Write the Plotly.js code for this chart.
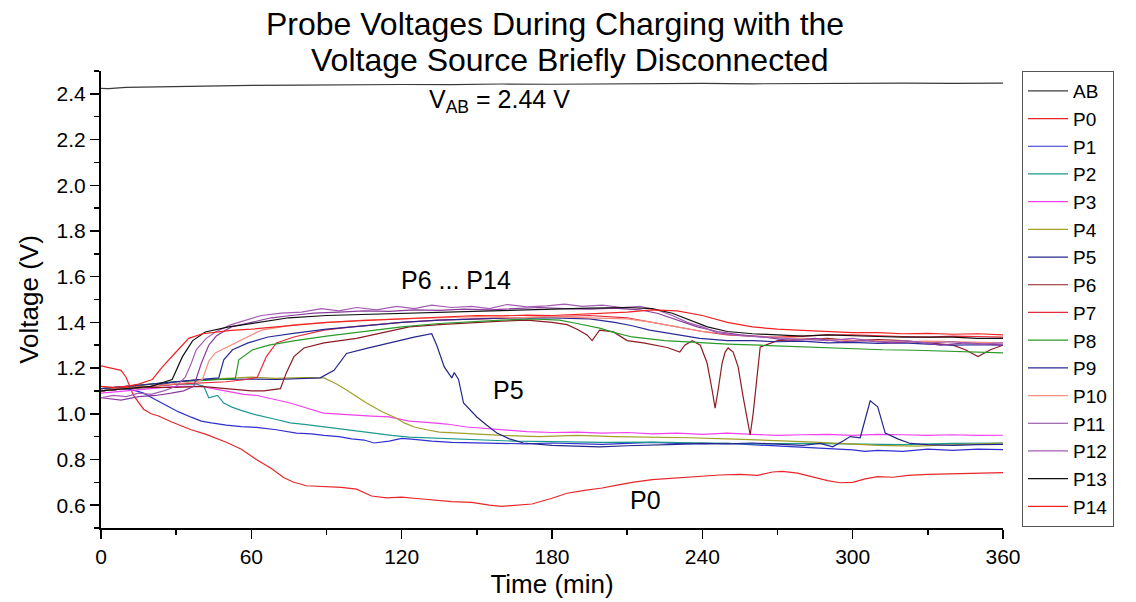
<!DOCTYPE html>
<html>
<head>
<meta charset="utf-8">
<script src="https://cdn.plot.ly/plotly-3.0.1.min.js"></script>
<style>html,body{margin:0;padding:0;background:#fff;}#chart{width:1136px;height:602px;}</style>
</head>
<body>
<div id="chart"></div>
<script>
// ---- data (time in min, voltage in V) ----
const seriesNames = ["AB","P0","P1","P2","P3","P4","P5","P6","P7","P8","P9","P10","P11","P12","P13","P14"];

const tAB = [0,3,10,20,30,40,50,60,80,100,120,140,160,180,200,220,240,260,280,300,320,340,360];
const vAB = [2.424,2.423,2.428,2.430,2.431,2.434,2.433,2.437,2.438,2.440,2.441,2.440,2.443,2.442,2.444,2.443,2.446,2.444,2.446,2.445,2.447,2.446,2.447];

const tP0 = [0,4,8,10,13,17,20,23,28,36,42,50,56,62,68,73,77,82,89,96,102,108,114,120,127,133,140,148,155,160,165,172,180,186,193,200,206,212,220,228,236,242,247,255,262,268,272,278,285,290,295,300,305,310,316,322,330,340,350,360];
const vP0 = [1.21,1.20,1.19,1.16,1.08,1.02,1.00,0.99,0.965,0.93,0.91,0.875,0.845,0.80,0.76,0.72,0.70,0.685,0.68,0.678,0.67,0.64,0.632,0.635,0.628,0.622,0.615,0.612,0.60,0.595,0.598,0.605,0.63,0.652,0.665,0.675,0.688,0.70,0.712,0.718,0.725,0.728,0.732,0.735,0.73,0.745,0.748,0.74,0.72,0.707,0.698,0.70,0.715,0.725,0.722,0.73,0.735,0.738,0.74,0.742];

const tP1 = [0,5,10,14,17,22,27,31,36,40,44,50,56,62,70,78,84,89,95,100,105,109,115,120,125,132,140,150,160,170,180,190,200,210,220,230,240,250,260,270,280,290,300,305,310,320,330,340,350,360];
const vP1 = [1.10,1.105,1.11,1.10,1.09,1.06,1.03,1.008,0.985,0.968,0.96,0.95,0.944,0.94,0.93,0.915,0.912,0.905,0.90,0.89,0.885,0.872,0.88,0.892,0.888,0.88,0.875,0.872,0.87,0.868,0.872,0.87,0.866,0.87,0.875,0.87,0.868,0.87,0.865,0.86,0.855,0.85,0.842,0.835,0.84,0.835,0.845,0.84,0.845,0.843];

const tP2 = [0,10,20,30,38,41,43,46.5,49,52,55.6,62,70,75.5,82,89,96,103,109,116,123,135,150,165,180,200,220,240,260,280,300,320,340,360];
const vP2 = [1.10,1.11,1.12,1.13,1.13,1.12,1.07,1.08,1.047,1.03,1.016,0.995,0.975,0.96,0.952,0.942,0.935,0.925,0.916,0.905,0.898,0.892,0.885,0.88,0.878,0.875,0.876,0.872,0.868,0.87,0.868,0.865,0.87,0.872];

const tP3 = [0,10,20,30,40,45,51.6,57,62.4,68,75.5,82,88.8,95,102,108,115,123,130,138,146,155,163,170,180,190,200,210,220,230,240,250,260,270,280,290,300,310,320,330,340,350,360];
const vP3 = [1.09,1.10,1.11,1.12,1.12,1.11,1.095,1.085,1.08,1.065,1.047,1.025,1.003,0.998,0.995,0.99,0.986,0.968,0.962,0.955,0.942,0.935,0.928,0.922,0.918,0.92,0.915,0.918,0.912,0.915,0.91,0.915,0.91,0.905,0.908,0.91,0.905,0.91,0.908,0.905,0.908,0.905,0.906];

const tP4 = [0,10,20,30,40,50,60,70,80,89,94,98,102,106,112,118,121,125,130,135,143,151,160,175,190,205,220,235,250,265,280,295,310,325,340,350,360];
const vP4 = [1.10,1.115,1.13,1.14,1.15,1.155,1.16,1.155,1.158,1.157,1.13,1.104,1.075,1.047,1.01,0.98,0.96,0.942,0.93,0.92,0.915,0.91,0.905,0.90,0.905,0.90,0.898,0.895,0.89,0.885,0.878,0.87,0.862,0.858,0.865,0.87,0.872];

const tP5 = [0,10,20,30,40,50,60,70,80,87.5,93,98,106,115,125,132,134,137,140,141,142.7,144.7,150,154,158,163,168.6,180,190,199,210,220,230,240,250,260,270,280,287,292,296,299,303,307,310,313,318,323,330,340,350,360];
const vP5 = [1.10,1.11,1.12,1.14,1.15,1.15,1.152,1.15,1.155,1.157,1.19,1.264,1.286,1.31,1.335,1.35,1.30,1.205,1.157,1.18,1.15,1.047,0.986,0.95,0.916,0.89,0.872,0.862,0.858,0.855,0.86,0.862,0.866,0.87,0.868,0.872,0.868,0.862,0.87,0.855,0.88,0.90,0.895,1.057,1.03,0.915,0.89,0.87,0.865,0.862,0.865,0.866];

const tP6 = [0,10,20,30,40,50,60,65,71.6,74,77,81,89,102,112,123,135,150,160,170,180,186,190,194,196,199,204.5,210,216.5,226,231,233,236,239.2,241.9,243.9,245.1,246.3,247.9,249.1,250.3,252.3,254.3,256.3,258.3,259.1,260.3,261.9,263.1,270,280,290,300,310,320,330,340,345,350,355,360];
const vP6 = [1.10,1.11,1.115,1.115,1.12,1.11,1.10,1.10,1.11,1.18,1.25,1.288,1.31,1.33,1.355,1.38,1.39,1.40,1.405,1.41,1.40,1.39,1.37,1.345,1.32,1.366,1.358,1.32,1.31,1.29,1.27,1.30,1.32,1.30,1.222,1.104,1.025,1.104,1.222,1.27,1.288,1.27,1.205,1.073,0.942,0.907,1.003,1.178,1.292,1.32,1.325,1.33,1.32,1.325,1.32,1.31,1.30,1.28,1.25,1.28,1.30];

const tP7 = [0,10,20,30,40,50,58,62.4,66,70,77,89,100,110,120,135,150,165,180,195,210,220,230,240,250,260,270,280,290,300,310,320,330,340,350,360];
const vP7 = [1.11,1.115,1.12,1.13,1.135,1.14,1.15,1.16,1.25,1.31,1.336,1.366,1.38,1.39,1.40,1.41,1.415,1.42,1.425,1.43,1.42,1.40,1.38,1.36,1.345,1.34,1.335,1.34,1.345,1.345,1.34,1.338,1.335,1.34,1.338,1.335];

const tP8 = [0,10,20,30,40,50,53.6,55,60.5,67,77.5,90,105,120,135,150,160,172,183,190,199,205,212,225,239,250,263,275,290,300,312,325,340,350,360];
const vP8 = [1.11,1.12,1.13,1.14,1.145,1.15,1.155,1.236,1.28,1.30,1.32,1.34,1.36,1.38,1.395,1.405,1.41,1.415,1.41,1.395,1.375,1.355,1.336,1.32,1.31,1.305,1.30,1.295,1.29,1.285,1.28,1.278,1.272,1.27,1.266];

const tP9 = [0,10,20,30,40,47,49,52.5,58.7,66.7,77.5,90,105,120,135,150,165,180,195,205,212,219,230,239,250,260,270,280,290,300,310,320,330,340,350,360];
const vP9 = [1.11,1.12,1.13,1.14,1.15,1.157,1.236,1.28,1.31,1.336,1.353,1.37,1.385,1.40,1.41,1.415,1.42,1.42,1.415,1.40,1.385,1.366,1.345,1.33,1.32,1.32,1.315,1.318,1.31,1.312,1.308,1.31,1.305,1.30,1.302,1.30];

const tP10 = [0,10,20,30,38,40.5,43,45.6,53.6,64,77.5,90,105,120,135,150,165,180,195,210,220,230,240,250,260,270,280,290,300,310,320,330,340,350,360];
const vP10 = [1.10,1.11,1.12,1.13,1.14,1.15,1.23,1.266,1.31,1.366,1.39,1.40,1.41,1.415,1.42,1.425,1.42,1.425,1.42,1.415,1.40,1.38,1.36,1.35,1.34,1.335,1.33,1.325,1.32,1.32,1.315,1.318,1.315,1.312,1.31];

const tP11 = [0,8,15,22,28,33,37,40,43,46,52,60,68,76,85,95,105,115,125,135,145,155,165,175,185,195,205,215,222,230,238,246,255,265,275,285,295,305,315,325,335,345,355,360];
const vP11 = [1.07,1.06,1.075,1.08,1.09,1.10,1.12,1.22,1.30,1.34,1.38,1.40,1.42,1.43,1.44,1.445,1.45,1.448,1.455,1.452,1.458,1.455,1.46,1.465,1.46,1.458,1.462,1.455,1.44,1.41,1.38,1.36,1.345,1.335,1.32,1.33,1.315,1.32,1.31,1.315,1.30,1.31,1.305,1.30];

const tP12 = [0,5,10,15,20,25,30,33.6,36,38,42,46,52,58,64,72,80,88,95,102,110,118,125,132,140,148,155,162,170,178,185,192,200,208,215,222,228,234,240,246,252,258,263,270,280,290,300,310,320,330,340,350,360];
const vP12 = [1.07,1.08,1.075,1.09,1.085,1.10,1.12,1.16,1.22,1.28,1.33,1.36,1.39,1.41,1.43,1.44,1.445,1.46,1.45,1.465,1.455,1.47,1.46,1.475,1.465,1.47,1.46,1.478,1.468,1.472,1.48,1.47,1.475,1.465,1.47,1.454,1.43,1.40,1.38,1.354,1.345,1.34,1.336,1.33,1.325,1.32,1.33,1.315,1.32,1.31,1.315,1.305,1.31];

const tP13 = [0,10,20,28.4,32.5,36.6,41.6,51,64,75,90,105,120,135,150,165,180,195,210,220,228,235,242,250,260,270,280,290,300,310,320,330,340,350,360];
const vP13 = [1.10,1.11,1.12,1.15,1.25,1.32,1.358,1.38,1.40,1.42,1.43,1.435,1.44,1.445,1.45,1.455,1.46,1.462,1.465,1.46,1.44,1.41,1.38,1.36,1.35,1.345,1.34,1.345,1.34,1.338,1.335,1.336,1.335,1.33,1.33];

const tP14 = [0,5,10,15,20.5,24.5,29.6,35,40.5,45.6,52,60,70,80,90,100,110,120,130,140,150,160,170,180,190,200,210,220,230,240,250,260,270,280,290,300,310,320,330,340,350,360];
const vP14 = [1.12,1.115,1.12,1.13,1.15,1.205,1.266,1.33,1.35,1.358,1.365,1.37,1.38,1.39,1.40,1.405,1.41,1.415,1.42,1.425,1.43,1.428,1.432,1.43,1.435,1.44,1.445,1.455,1.45,1.43,1.40,1.38,1.37,1.365,1.36,1.355,1.355,1.35,1.352,1.348,1.35,1.345];

const titleLine1 = "Probe Voltages During Charging with the";
const titleLine2 = "Voltage Source Briefly Disconnected";
const xTitle = "Time (min)";
const yTitle = "Voltage (V)";
const labelVab = {t: 159, v: 2.37, text: "V<sub>AB</sub> = 2.44 V"};
const labelP6 = {t: 141.5, v: 1.585, text: "P6 ... P14"};
const labelP5 = {t: 162.5, v: 1.104, text: "P5"};
const labelP0 = {t: 217.2, v: 0.623, text: "P0"};

// ---- styling ----
const colors = {
  AB:"#3a3a3a", P0:"#e8262a", P1:"#2f2fd0", P2:"#1f9890", P3:"#f040f0", P4:"#a0a02a",
  P5:"#26268a", P6:"#8c1c22", P7:"#e8283a", P8:"#2a9a2a", P9:"#2a2a96", P10:"#f3907e",
  P11:"#8a3c9c", P12:"#a45cb4", P13:"#111111", P14:"#f22222"
};
const dataMap = {
  AB:[tAB,vAB], P0:[tP0,vP0], P1:[tP1,vP1], P2:[tP2,vP2], P3:[tP3,vP3], P4:[tP4,vP4],
  P5:[tP5,vP5], P6:[tP6,vP6], P7:[tP7,vP7], P8:[tP8,vP8], P9:[tP9,vP9], P10:[tP10,vP10],
  P11:[tP11,vP11], P12:[tP12,vP12], P13:[tP13,vP13], P14:[tP14,vP14]
};

const traces = seriesNames.map(n => ({
  type: "scatter", mode: "lines", name: n,
  x: dataMap[n][0], y: dataMap[n][1],
  line: {color: colors[n], width: 1.2}
}));

const W = 1136, H = 602, L = 101, R = 133, T = 71, B = 74;
const pw = W - L - R, ph = H - T - B;
const px = x => (x - L) / pw;
const py = y => (H - B - y) / ph;

const FONT = "Arial, 'Liberation Sans', sans-serif";

const layout = {
  width: W, height: H,
  margin: {l: L, r: R, t: T, b: B, pad: 0},
  paper_bgcolor: "#fff", plot_bgcolor: "#fff",
  font: {family: FONT, color: "#000", size: 20},
  showlegend: true,
  legend: {
    x: px(1022), y: 1, xanchor: "left", yanchor: "top",
    bordercolor: "#555", borderwidth: 1, bgcolor: "#fff",
    font: {family: FONT, size: 19, color: "#000"},
    tracegroupgap: 0, itemwidth: 40, maxheight: 1
  },
  xaxis: {
    range: [0, 360], tickmode: "linear", tick0: 0, dtick: 60,
    ticks: "outside", ticklen: 9, tickwidth: 1.5, tickcolor: "#000",
    minor: {dtick: 30, ticks: "outside", ticklen: 5, tickwidth: 1.5, tickcolor: "#000", showgrid: false},
    showline: true, linewidth: 2, linecolor: "#000", mirror: false,
    showgrid: false, zeroline: false,
    tickfont: {family: FONT, size: 21, color: "#000"},
    title: {text: xTitle, font: {family: FONT, size: 26, color: "#000"}, standoff: 8}
  },
  yaxis: {
    range: [0.5, 2.5], tickmode: "linear", tick0: 0.4, dtick: 0.2, tickformat: ".1f",
    ticks: "outside", ticklen: 9, tickwidth: 1.5, tickcolor: "#000",
    minor: {dtick: 0.1, ticks: "outside", ticklen: 5, tickwidth: 1.5, tickcolor: "#000", showgrid: false},
    showline: true, linewidth: 2, linecolor: "#000", mirror: false,
    showgrid: false, zeroline: false,
    tickfont: {family: FONT, size: 21, color: "#000"},
    title: {text: yTitle, font: {family: FONT, size: 26, color: "#000"}, standoff: 10}
  },
  annotations: [
    {xref: "paper", yref: "paper", x: px(555), y: py(24), xanchor: "center", yanchor: "middle",
     text: titleLine1, showarrow: false, font: {family: FONT, size: 32, color: "#000"}},
    {xref: "paper", yref: "paper", x: px(570), y: py(60), xanchor: "center", yanchor: "middle",
     text: titleLine2, showarrow: false, font: {family: FONT, size: 32, color: "#000"}},
    {x: labelVab.t, y: labelVab.v, text: labelVab.text, showarrow: false, xanchor: "center", yanchor: "middle",
     font: {family: FONT, size: 25, color: "#000"}},
    {x: labelP6.t, y: labelP6.v, text: labelP6.text, showarrow: false, xanchor: "center", yanchor: "middle",
     font: {family: FONT, size: 25, color: "#000"}},
    {x: labelP5.t, y: labelP5.v, text: labelP5.text, showarrow: false, xanchor: "center", yanchor: "middle",
     font: {family: FONT, size: 25, color: "#000"}},
    {x: labelP0.t, y: labelP0.v, text: labelP0.text, showarrow: false, xanchor: "center", yanchor: "middle",
     font: {family: FONT, size: 25, color: "#000"}}
  ]
};

Plotly.newPlot("chart", traces, layout, {displayModeBar: false, staticPlot: true});
</script>
</body>
</html>
